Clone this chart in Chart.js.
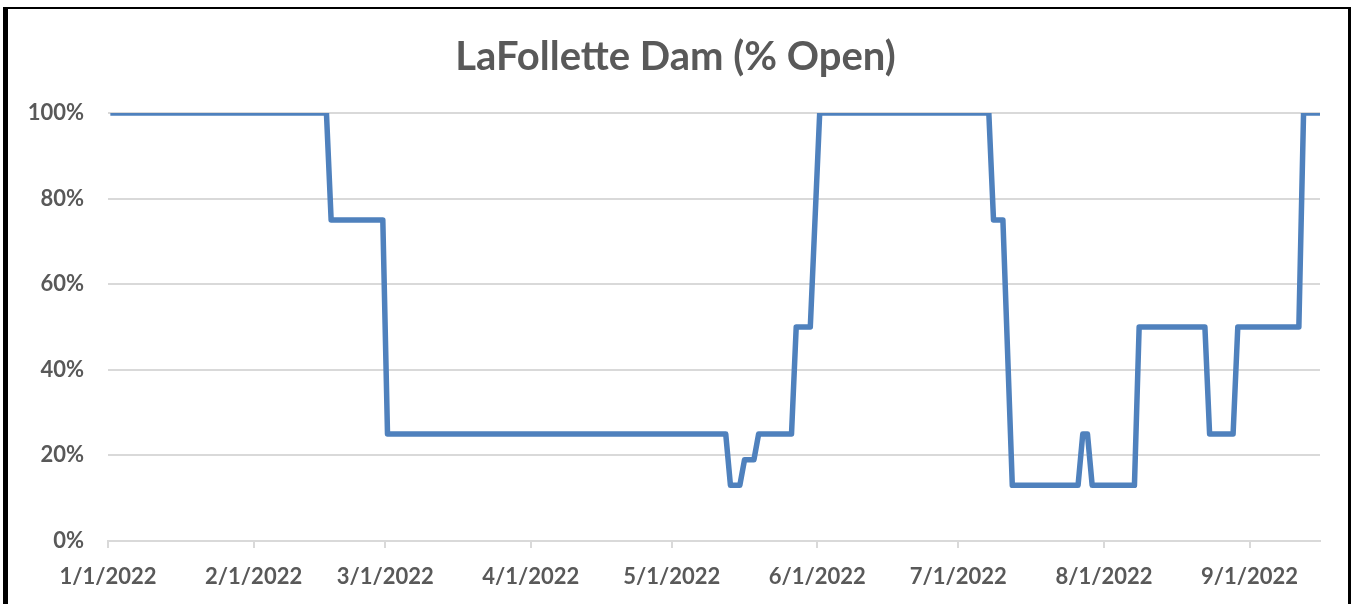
<!DOCTYPE html>
<html>
<head>
<meta charset="utf-8">
<title>LaFollette Dam (% Open)</title>
<script src="https://cdn.jsdelivr.net/npm/chart.js@4.4.1/dist/chart.umd.min.js"></script>
<style>
    html, body { margin: 0; padding: 0; background: #fff; }
    #wrap { position: relative; width: 1351px; height: 604px; overflow: hidden; }
    #wrap canvas { position: absolute; left: 0; top: 0; }
    /* outer frame of the pasted chart (no bottom edge, it is cut off) */
    #frame {
        position: absolute; left: 3px; top: 7px; width: 1348px; height: 610px;
        box-sizing: border-box; pointer-events: none;
        border-left: 5px solid #000; border-top: 2px solid #000; border-right: 3px solid #000;
    }
</style>
</head>
<body>
<div id="wrap">
    <canvas id="damChart" width="1351" height="604"></canvas>
    <div id="frame"></div>
</div>
<script>
'use strict';

// ---- data ----
// only the days where the gate setting changes; the line is straight between them
const startDate = '2022-01-01';
const endDate = '2022-09-16';

const pointDates = [
    '2022-01-01', '2022-02-16', '2022-02-17', '2022-02-28', '2022-03-01',
    '2022-05-12', '2022-05-13', '2022-05-15', '2022-05-16', '2022-05-18',
    '2022-05-19', '2022-05-26', '2022-05-27', '2022-05-30', '2022-06-01',
    '2022-07-07', '2022-07-08', '2022-07-10', '2022-07-12', '2022-07-26',
    '2022-07-27', '2022-07-28', '2022-07-29', '2022-08-07', '2022-08-08',
    '2022-08-22', '2022-08-23', '2022-08-28', '2022-08-29', '2022-09-11',
    '2022-09-12', '2022-09-16'
];
const pctOpen = [
    100, 100, 75, 75, 25,
    25, 13, 13, 19, 19,
    25, 25, 50, 50, 100,
    100, 75, 75, 13, 13,
    25, 25, 13, 13, 50,
    50, 25, 25, 50, 50,
    100, 100
];

const tickDates = [
    '2022-01-01', '2022-02-01', '2022-03-01', '2022-04-01', '2022-05-01',
    '2022-06-01', '2022-07-01', '2022-08-01', '2022-09-01'
];
const tickLabels = [
    '1/1/2022', '2/1/2022', '3/1/2022', '4/1/2022', '5/1/2022',
    '6/1/2022', '7/1/2022', '8/1/2022', '9/1/2022'
];
const yTicks = [0, 20, 40, 60, 80, 100];

// ---- helpers ----
const DAY = 86400000;
function dayIndex(d) {
    return (Date.parse(d) - Date.parse(startDate)) / DAY;
}
// the date axis puts each day's point in the middle of its day slot
const SLOT = 0.5;

const labelFont = { family: 'Lato', size: 22, weight: 'bold' };
const textColor = '#595959';
const gridColor = '#d9d9d9';

const series = pointDates.map((d, i) => ({ x: dayIndex(d) + SLOT, y: pctOpen[i] }));

const ctx = document.getElementById('damChart').getContext('2d');
const chart = new Chart(ctx, {
    type: 'line',
    data: {
        datasets: [{
            label: 'LaFollette Dam',
            data: series,
            borderColor: '#4f81bd',
            borderWidth: 5.5,
            pointRadius: 0,
            tension: 0,
            borderJoinStyle: 'round',
            borderCapStyle: 'butt',
            fill: false,
        }]
    },
    options: {
        responsive: false,
        animation: false,
        devicePixelRatio: 1,
        layout: { padding: { top: 7, right: 0, left: 0, bottom: 0 } },
        plugins: {
            legend: { display: false },
            tooltip: { enabled: false },
            title: {
                display: true,
                text: 'LaFollette Dam (% Open)',
                color: textColor,
                font: { family: 'Lato', size: 40, weight: 'bold', lineHeight: 1.2 },
                padding: { top: 26, bottom: 32 },
            },
        },
        scales: {
            x: {
                type: 'linear',
                min: 0,
                max: dayIndex(endDate),
                afterBuildTicks: (scale) => {
                    scale.ticks = tickDates.map(d => ({ value: dayIndex(d) }));
                },
                afterFit: (scale) => { scale.height = 63; },
                ticks: {
                    autoSkip: false,
                    maxRotation: 0,
                    padding: 16,
                    color: textColor,
                    font: labelFont,
                    callback: (value, index) => tickLabels[index],
                },
                grid: {
                    drawOnChartArea: false,
                    color: gridColor,
                    lineWidth: 2,
                    tickLength: 7,
                },
                border: { color: gridColor, width: 2 },
            },
            y: {
                min: 0,
                max: 100,
                afterBuildTicks: (scale) => {
                    scale.ticks = yTicks.map(v => ({ value: v }));
                },
                afterFit: (scale) => { scale.width = 108; },
                ticks: {
                    padding: 24,
                    color: textColor,
                    font: labelFont,
                    callback: (value) => value + '%',
                },
                grid: {
                    color: gridColor,
                    lineWidth: 2,
                    drawTicks: false,
                },
                border: { display: false },
            },
            // empty strip on the right so the title stays centred on the whole frame
            spacer: {
                position: 'right',
                min: 0,
                max: 100,
                afterFit: (scale) => { scale.width = 31; },
                ticks: { display: false },
                grid: { display: false },
                border: { display: false },
            },
        },
    },
});
</script>
</body>
</html>
